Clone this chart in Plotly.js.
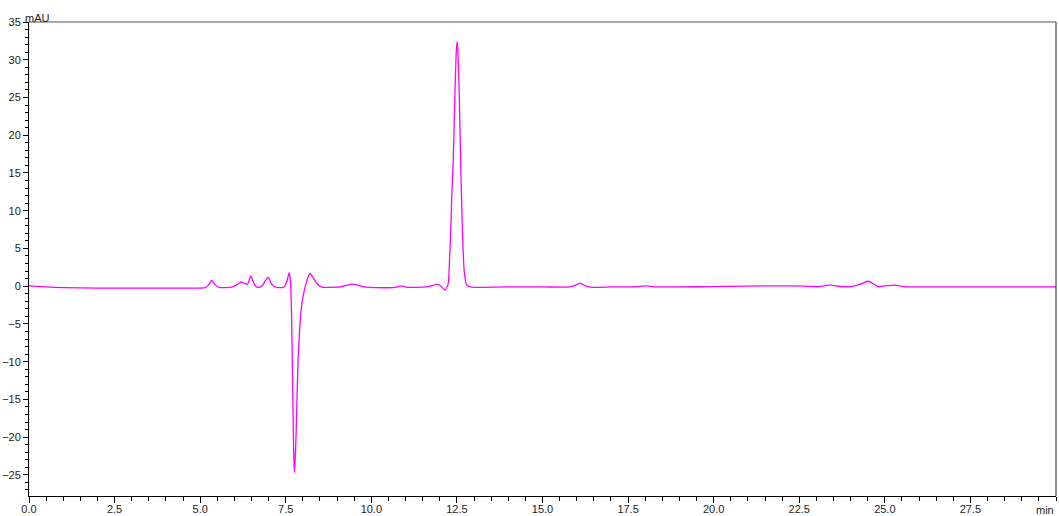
<!DOCTYPE html>
<html>
<head>
<meta charset="utf-8">
<script src="https://cdn.plot.ly/plotly-3.0.1.min.js"></script>
<style>html,body{margin:0;padding:0;background:#fff;}#chart{width:1059px;height:516px;}</style>
</head>
<body>
<div id="chart"></div>
<script>
// retention time (min)
const timeMin = [
  0.00, 0.5, 1.0, 2.0, 3.0, 4.0, 4.8, 5.15, 5.25, 5.34, 5.43, 5.55, 5.75, 5.95,
  6.08, 6.20, 6.30, 6.38, 6.43, 6.48, 6.55, 6.62, 6.72, 6.82, 6.90, 6.98, 7.06,
  7.15, 7.30, 7.45, 7.53, 7.60, 7.64, 7.67, 7.70, 7.73, 7.75, 7.77, 7.80, 7.86,
  7.91, 7.98, 8.06, 8.13, 8.21, 8.28, 8.40, 8.55, 8.80, 9.10, 9.30, 9.43, 9.60,
  9.80, 10.2, 10.7, 10.89, 11.05, 11.6, 11.8, 11.91, 12.02, 12.12, 12.17, 12.22,
  12.25, 12.28, 12.32, 12.35, 12.39, 12.44, 12.48, 12.505, 12.53, 12.57, 12.61,
  12.66, 12.71, 12.78, 12.92, 13.2, 14.0, 15.0, 15.8, 15.95, 16.09, 16.25, 16.45,
  17.0, 17.8, 18.0, 18.2, 19.0, 20.0, 21.0, 22.0, 22.6, 23.0, 23.25, 23.39, 23.55,
  24.0, 24.25, 24.50, 24.65, 24.79, 25.0, 25.31, 25.55, 26.5, 28.0, 30.0
];
// detector signal (mAU)
const signalMAU = [
  0.05, -0.1, -0.2, -0.25, -0.25, -0.25, -0.25, -0.2, 0.2, 0.8, 0.2, -0.15, -0.2, -0.1,
  0.2, 0.55, 0.35, 0.25, 0.8, 1.35, 0.6, 0.0, -0.15, 0.1, 0.7, 1.2, 0.5,
  -0.05, -0.2, -0.1, 0.6, 1.8, 0.5, -4.0, -12.8, -21.5, -24.7, -23.5, -19.9, -9.8,
  -5.4, -2.0, -0.23, 0.92, 1.71, 1.26, 0.39, -0.14, -0.15, -0.1, 0.15, 0.26, 0.15,
  -0.1, -0.2, -0.15, 0.05, -0.15, -0.1, 0.1, 0.26, 0.05, -0.4, -0.5, 0.0,
  0.4, 3.0, 7.45, 12.0, 16.3, 25.1, 31.0, 32.4, 31.0, 25.1, 16.3,
  7.45, 2.15, 0.17, -0.14, -0.15, -0.1, -0.1, -0.1, 0.1, 0.4, 0.05, -0.15,
  -0.1, -0.05, 0.05, -0.05, -0.1, -0.05, 0.0, 0.05, 0.0, -0.05, 0.05, 0.17, 0.05,
  -0.05, 0.2, 0.65, 0.35, -0.05, 0.05, 0.15, -0.05, -0.1, -0.1, -0.1
];
const xTickVals = [0, 2.5, 5, 7.5, 10, 12.5, 15, 17.5, 20, 22.5, 25, 27.5];
const xTickText = ["0.0", "2.5", "5.0", "7.5", "10.0", "12.5", "15.0", "17.5", "20.0", "22.5", "25.0", "27.5"];
const yTickVals = [35, 30, 25, 20, 15, 10, 5, 0, -5, -10, -15, -20, -25];

const font = {family: "Liberation Sans, Arial, sans-serif", size: 11, color: "#222"};

Plotly.newPlot("chart", [{
  x: timeMin, y: signalMAU, type: "scatter", mode: "lines",
  line: {color: "#ff00ff", width: 1.3, shape: "spline", smoothing: 0.5},
  hoverinfo: "skip"
}], {
  width: 1059, height: 516,
  margin: {l: 29, r: 3, t: 22, b: 20, pad: 0},
  paper_bgcolor: "#fff", plot_bgcolor: "#fff",
  showlegend: false,
  font: font,
  xaxis: {
    range: [0, 30], tickvals: xTickVals, ticktext: xTickText,
    ticks: "outside", ticklen: 6, tickwidth: 1, tickcolor: "#000",
    ticklabelstandoff: -3,
    minor: {dtick: 0.5, tick0: 0, ticks: "outside", ticklen: 4, tickcolor: "#000", showgrid: false},
    showline: true, linecolor: "#000", linewidth: 1, showgrid: false, zeroline: false,
    tickfont: font, fixedrange: true
  },
  yaxis: {
    range: [-27.8, 35], tickvals: yTickVals,
    ticks: "outside", ticklen: 5, tickwidth: 1, tickcolor: "#000",
    minor: {dtick: 1, tick0: 0, ticks: "outside", ticklen: 3, tickcolor: "#000", showgrid: false},
    showline: true, linecolor: "#000", linewidth: 1, showgrid: false, zeroline: false,
    tickfont: font, fixedrange: true
  },
  shapes: [
    {type: "line", xref: "paper", yref: "paper", x0: 0, x1: 1, y0: 1, y1: 1, line: {color: "#555", width: 1}},
    {type: "line", xref: "paper", yref: "paper", x0: 1, x1: 1, y0: 0, y1: 1, line: {color: "#222", width: 1}}
  ],
  annotations: [
    {text: "mAU", xref: "paper", yref: "paper", x: 0, y: 1, xanchor: "left", yanchor: "bottom", xshift: -6, yshift: -4, showarrow: false, font: font},
    {text: "min", xref: "paper", yref: "paper", x: 1, y: 0, xanchor: "right", yanchor: "top", xshift: 0, yshift: -6, showarrow: false, font: font}
  ]
}, {displayModeBar: false, staticPlot: true});
</script>
</body>
</html>
